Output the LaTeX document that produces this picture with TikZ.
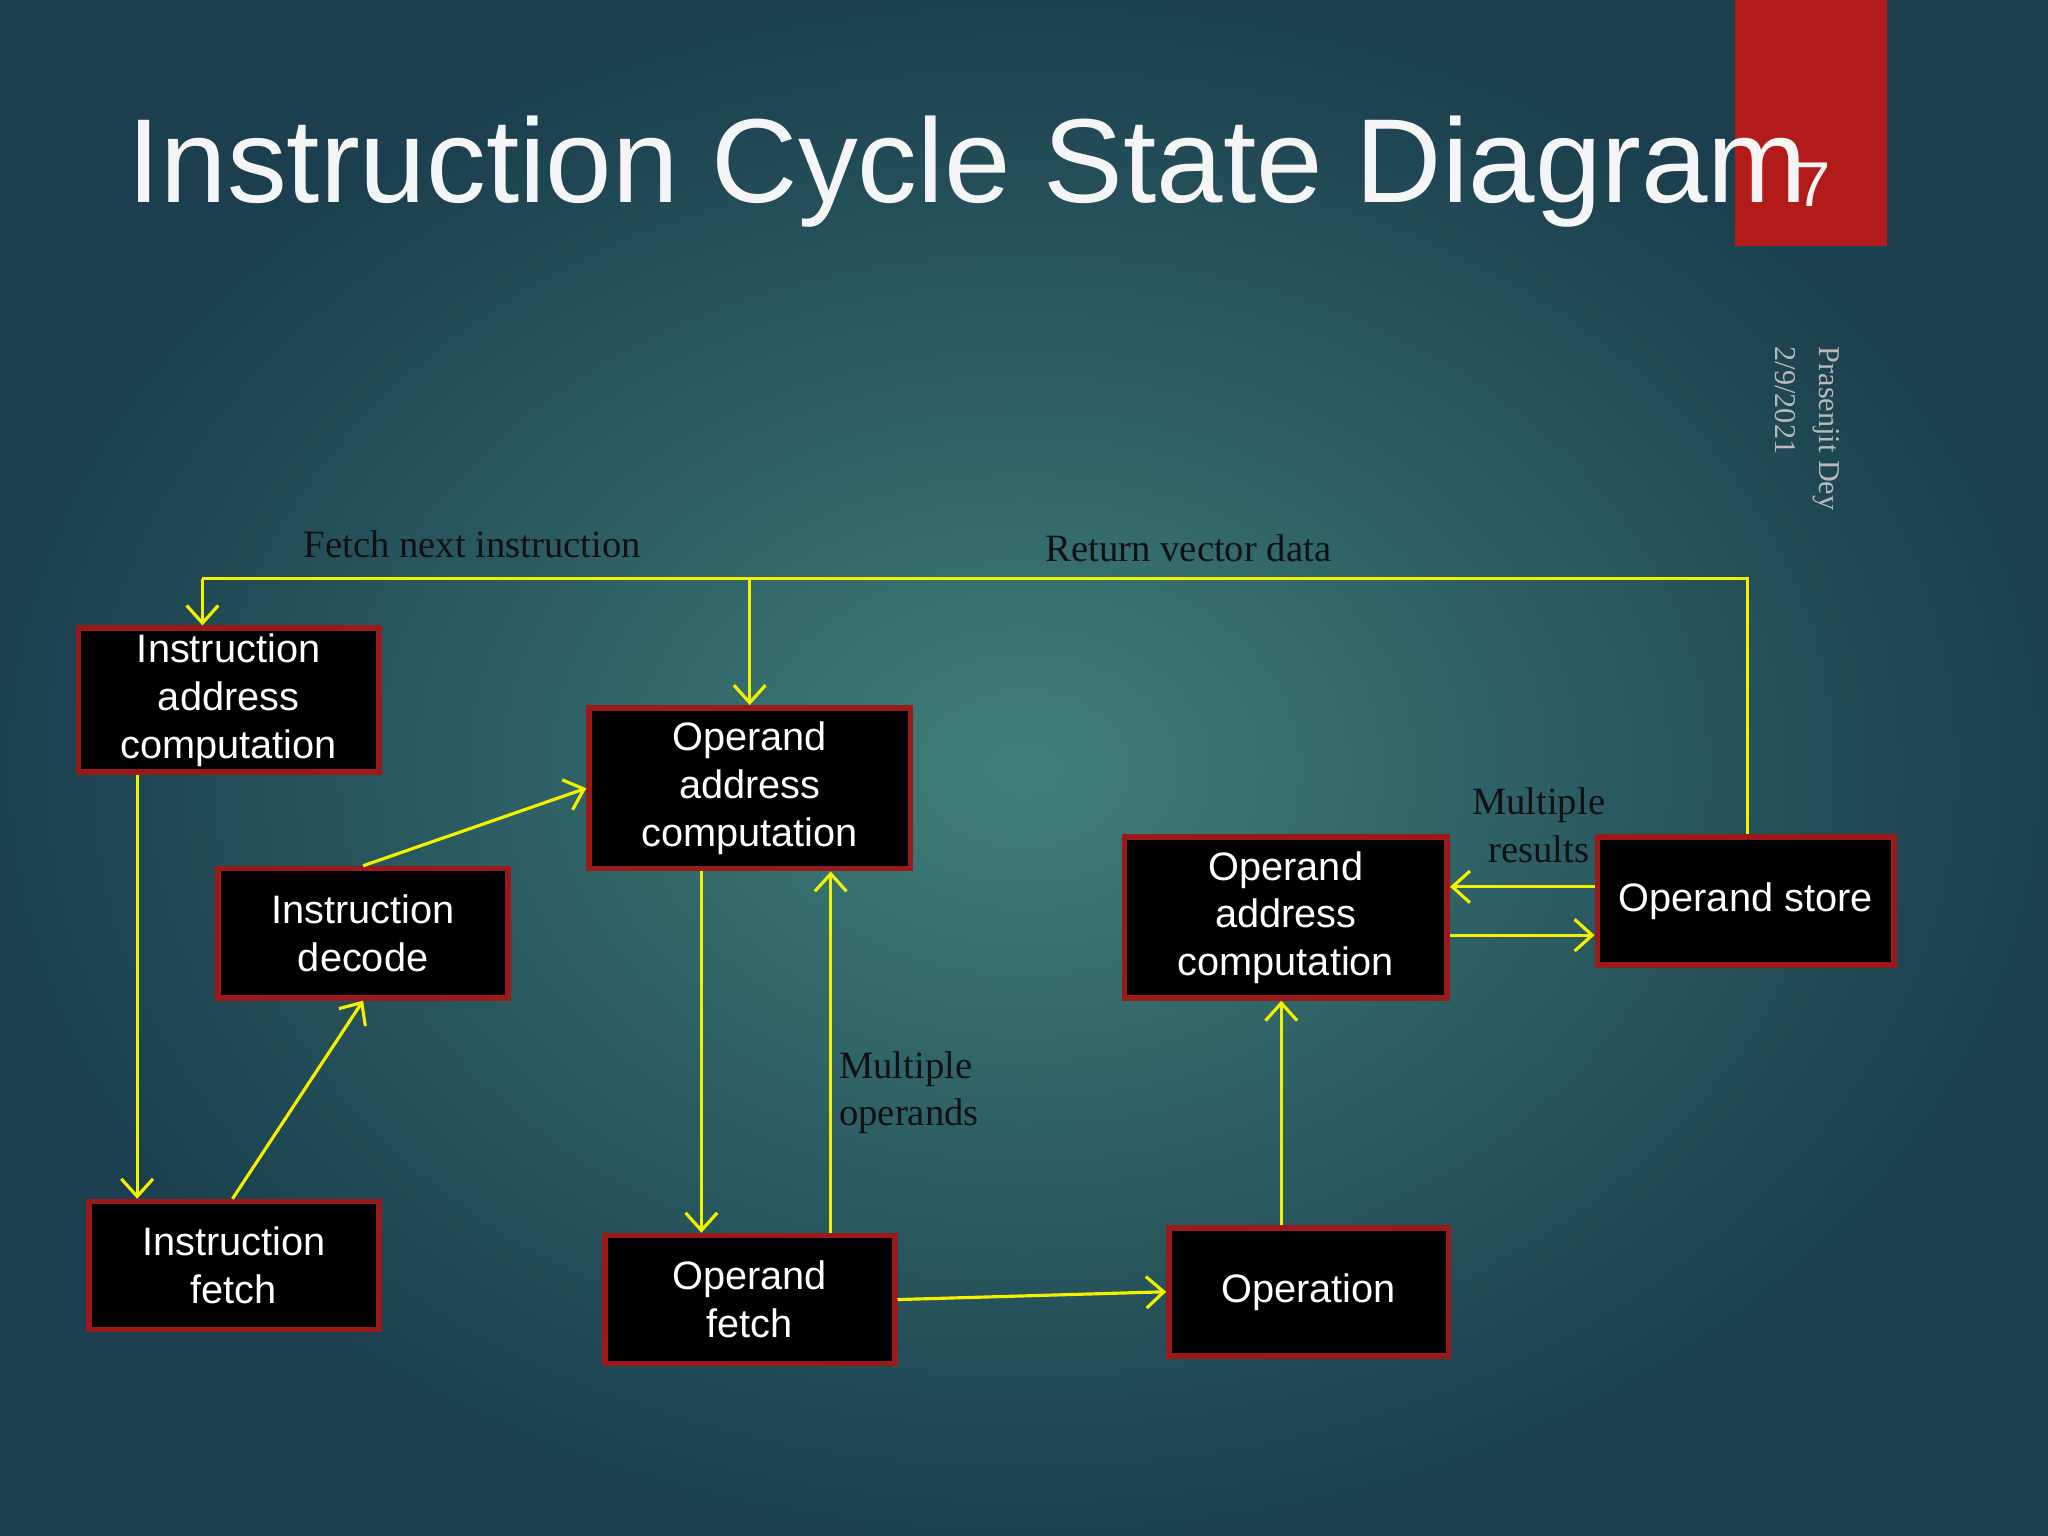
\documentclass[tikz,border=0pt]{standalone}
\usepackage{fontspec}
\setmainfont{Liberation Sans}
\newfontfamily\serifl{Liberation Serif}
\usetikzlibrary{arrows.meta}
\definecolor{bgin}{HTML}{3F7F7A}
\definecolor{bgout}{HTML}{1B3F4E}
\definecolor{boxred}{HTML}{9A1A1A}
\definecolor{tagred}{HTML}{B31B1B}
\definecolor{arr}{HTML}{F2F200}
\definecolor{lbl}{HTML}{111111}
\tikzset{
  sbox/.style={draw=boxred,line width=1.6pt,fill=black,text=white,align=center,
    font=\fontsize{11.3pt}{13.6pt}\selectfont,inner sep=0pt},
  conn/.style={draw=arr,line width=0.9pt,-{Straight Barb[length=5pt,width=9pt]}},
  line/.style={draw=arr,line width=0.9pt},
  lab/.style={text=lbl,font=\serifl\fontsize{11pt}{13.6pt}\selectfont,inner sep=0pt}
}
\begin{document}
\begin{tikzpicture}[x=0.013061cm,y=-0.013061cm]
\useasboundingbox (0,0) rectangle (1568,1176);
\shade[inner color=bgin,outer color=bgout] (0,0) rectangle (1568,1176);
\fill[tagred] (1328,0) rectangle (1445,188);
\node[anchor=base west,text=white!92!gray,font=\fontsize{34pt}{40pt}\selectfont,inner sep=0pt] (title) at (97,155) {Instruction Cycle State Diagram};
\node[anchor=base west,text=white!92!gray,font=\fontsize{18pt}{20pt}\selectfont,inner sep=0pt] (pg) at (1374,158) {7};
\node[rotate=-90,anchor=base west,text=gray!55,font=\serifl\fontsize{8.6pt}{10pt}\selectfont,inner sep=0pt] (auth) at (1393,265) {Prasenjit Dey};
\node[rotate=-90,anchor=base west,text=gray!55,font=\serifl\fontsize{8.6pt}{10pt}\selectfont,inner sep=0pt] (date) at (1359,265) {2/9/2021};

\node[sbox,minimum width=3.004cm,minimum height=1.437cm] (IAC) at (175,536) {Instruction\\address\\computation};
\node[sbox,minimum width=3.213cm,minimum height=1.607cm] (OAC1) at (574,603.5) {Operand\\address\\computation};
\node[sbox,minimum width=2.900cm,minimum height=1.293cm] (ID) at (278,714.5) {Instruction\\decode};
\node[sbox,minimum width=2.900cm,minimum height=1.280cm] (IF) at (179,969) {Instruction\\fetch};
\node[sbox,minimum width=2.900cm,minimum height=1.280cm] (OF) at (574,995) {Operand\\fetch};
\node[sbox,minimum width=2.795cm,minimum height=1.280cm] (Op) at (1002,989) {Operation};
\node[sbox,minimum width=3.226cm,minimum height=1.607cm] (OAC2) at (984.5,702.5) {Operand\\address\\computation};
\node[sbox,minimum width=2.965cm,minimum height=1.280cm] (OS) at (1336.5,690) {Operand store};

\coordinate (tl) at (155,443);
\coordinate (tm) at (574,443);
\draw[line] (OS.north -| 1338,0) |- (tl);
\draw[conn] (tl) -- (IAC.north -| tl);
\draw[conn] (tm) -- (OAC1.north);
\draw[conn] (IAC.south -| 105,0) -- (IF.north -| 105,0);
\draw[conn] (IF.north -| 178,0) -- (ID.south);
\draw[conn] (ID.north) -- (OAC1.west);
\draw[conn] (OAC1.south -| 537,0) -- (OF.north -| 537,0);
\draw[conn] (OF.north -| 636,0) -- (OAC1.south -| 636,0);
\draw[conn] (OF.east) -- (Op.west);
\draw[conn] (Op.north -| 981,0) -- (OAC2.south -| 981,0);
\draw[conn] (OS.west |- 0,679) -- (OAC2.east |- 0,679);
\draw[conn] (OAC2.east |- 0,716) -- (OS.west |- 0,716);

\node[lab,anchor=base west] (l1) at (232,427) {Fetch next instruction};
\node[lab,anchor=base west] (l2) at (800,430) {Return vector data};
\node[lab,anchor=base,align=center] (l3) at (1178,660) {Multiple\\results};
\node[lab,anchor=base west,align=left] (l4) at (642,862) {Multiple\\operands};
\end{tikzpicture}
\end{document}
